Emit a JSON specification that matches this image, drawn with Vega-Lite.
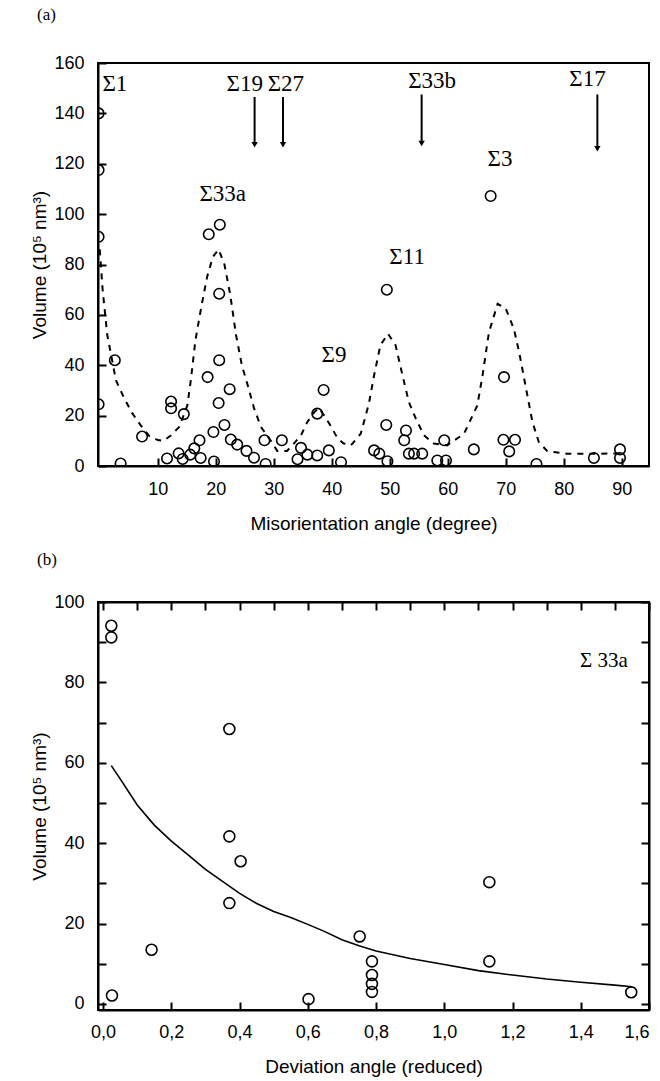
{
  "$schema": "https://vega.github.io/schema/vega-lite/v6.json",
  "padding": {"left": 29, "top": 5, "right": 5, "bottom": 5},
  "background": "white",
  "bounds": "flush",
  "spacing": 136,
  "config": {
    "view": {"stroke": "black", "strokeWidth": 2},
    "axis": {
      "grid": false,
      "domainColor": "black",
      "domainWidth": 2,
      "ticks": true,
      "tickColor": "black",
      "tickWidth": 2,
      "labelFont": "Liberation Sans",
      "labelFontSize": 18,
      "labelColor": "black",
      "titleFont": "Liberation Sans",
      "titleFontSize": 19,
      "titleFontWeight": "normal",
      "titleColor": "black"
    }
  },
  "datasets": {
    "pts_a": [
      {"angle": -0.2, "vol": 140}, {"angle": -0.2, "vol": 117.5}, {"angle": -0.2, "vol": 91}, {"angle": -0.2, "vol": 24.5},
      {"angle": 2.6, "vol": 42}, {"angle": 3.6, "vol": 1}, {"angle": 7.3, "vol": 11.7}, {"angle": 11.6, "vol": 3},
      {"angle": 12.3, "vol": 25.6}, {"angle": 12.3, "vol": 22.9}, {"angle": 13.6, "vol": 5}, {"angle": 14.5, "vol": 20.6},
      {"angle": 14.3, "vol": 2.8}, {"angle": 15.6, "vol": 4.5}, {"angle": 16.3, "vol": 7}, {"angle": 17.2, "vol": 10.2},
      {"angle": 17.4, "vol": 3.2}, {"angle": 18.6, "vol": 35.3}, {"angle": 18.8, "vol": 92}, {"angle": 20.7, "vol": 95.8},
      {"angle": 19.6, "vol": 13.5}, {"angle": 19.7, "vol": 1.8}, {"angle": 20.6, "vol": 42}, {"angle": 20.6, "vol": 68.4},
      {"angle": 20.5, "vol": 25}, {"angle": 21.5, "vol": 16.3}, {"angle": 22.4, "vol": 30.5}, {"angle": 22.6, "vol": 10.5},
      {"angle": 23.7, "vol": 8.5}, {"angle": 25.3, "vol": 6}, {"angle": 26.6, "vol": 3.3}, {"angle": 28.4, "vol": 10.2},
      {"angle": 28.6, "vol": 0.8}, {"angle": 31.4, "vol": 10.2}, {"angle": 34.7, "vol": 7.2}, {"angle": 35.8, "vol": 4.5},
      {"angle": 34.1, "vol": 2.7}, {"angle": 37.5, "vol": 20.8}, {"angle": 38.6, "vol": 30.2}, {"angle": 37.5, "vol": 4.2},
      {"angle": 39.5, "vol": 6.2}, {"angle": 41.6, "vol": 1.5}, {"angle": 49.5, "vol": 70}, {"angle": 49.4, "vol": 16.3},
      {"angle": 47.3, "vol": 6.2}, {"angle": 48.2, "vol": 4.9}, {"angle": 49.6, "vol": 1.9}, {"angle": 52.8, "vol": 14.1},
      {"angle": 52.5, "vol": 10.2}, {"angle": 53.3, "vol": 4.9}, {"angle": 54.2, "vol": 4.9}, {"angle": 55.6, "vol": 4.9},
      {"angle": 59.4, "vol": 10.2}, {"angle": 58.2, "vol": 2.2}, {"angle": 59.7, "vol": 2.2}, {"angle": 64.5, "vol": 6.6},
      {"angle": 67.4, "vol": 107.2}, {"angle": 69.7, "vol": 35.3}, {"angle": 69.6, "vol": 10.4}, {"angle": 71.6, "vol": 10.4},
      {"angle": 70.6, "vol": 5.8}, {"angle": 75.3, "vol": 0.8}, {"angle": 85.2, "vol": 3.2}, {"angle": 89.7, "vol": 6.6},
      {"angle": 89.7, "vol": 3.2}
    ],
    "fit_a": [
      {"angle": 0, "vol": 86}, {"angle": 0.5, "vol": 70}, {"angle": 1.3, "vol": 52}, {"angle": 2.8, "vol": 34},
      {"angle": 4.2, "vol": 27}, {"angle": 5.6, "vol": 21}, {"angle": 7.1, "vol": 16}, {"angle": 8.5, "vol": 12},
      {"angle": 10, "vol": 10.3}, {"angle": 11, "vol": 10}, {"angle": 12.2, "vol": 12}, {"angle": 13.7, "vol": 15.5},
      {"angle": 15.1, "vol": 24}, {"angle": 15.7, "vol": 34}, {"angle": 16.5, "vol": 50}, {"angle": 17.5, "vol": 63},
      {"angle": 18.5, "vol": 75}, {"angle": 19.5, "vol": 83}, {"angle": 20.5, "vol": 86}, {"angle": 21.5, "vol": 80},
      {"angle": 22.5, "vol": 68}, {"angle": 23.5, "vol": 52}, {"angle": 24.5, "vol": 40}, {"angle": 25.4, "vol": 33},
      {"angle": 26.6, "vol": 23}, {"angle": 27.8, "vol": 15.5}, {"angle": 29.5, "vol": 10}, {"angle": 30.6, "vol": 6},
      {"angle": 32.3, "vol": 6}, {"angle": 33.5, "vol": 9}, {"angle": 34.7, "vol": 12.2}, {"angle": 35.8, "vol": 17.5},
      {"angle": 37, "vol": 21.4}, {"angle": 37.8, "vol": 23}, {"angle": 38.7, "vol": 20}, {"angle": 39.8, "vol": 16},
      {"angle": 41, "vol": 11}, {"angle": 42, "vol": 9}, {"angle": 43.3, "vol": 8.2}, {"angle": 45, "vol": 12.8},
      {"angle": 46.4, "vol": 24.7}, {"angle": 47.3, "vol": 36}, {"angle": 48.4, "vol": 48}, {"angle": 49.7, "vol": 52.5},
      {"angle": 51, "vol": 48}, {"angle": 52.2, "vol": 36}, {"angle": 53.3, "vol": 25.4}, {"angle": 54.5, "vol": 18.8},
      {"angle": 55.9, "vol": 12.2}, {"angle": 57.6, "vol": 8.9}, {"angle": 59.9, "vol": 8.2}, {"angle": 62.8, "vol": 12.8},
      {"angle": 65.1, "vol": 24}, {"angle": 66, "vol": 36}, {"angle": 67.1, "vol": 53}, {"angle": 68.6, "vol": 64.4},
      {"angle": 70, "vol": 62.5}, {"angle": 71.4, "vol": 54.5}, {"angle": 72.3, "vol": 45.3}, {"angle": 73.4, "vol": 32},
      {"angle": 74.6, "vol": 17.5}, {"angle": 75.7, "vol": 9.5}, {"angle": 77.2, "vol": 5.8}, {"angle": 80.6, "vol": 4.9},
      {"angle": 86.4, "vol": 4.9}, {"angle": 90, "vol": 5}
    ],
    "arrows_a": [
      {"angle": 26.7, "top": 146.5, "tip": 127.5},
      {"angle": 31.6, "top": 146.5, "tip": 127.5},
      {"angle": 55.5, "top": 147.5, "tip": 128},
      {"angle": 85.8, "top": 147.5, "tip": 126}
    ],
    "labels_a": [
      {"angle": 2.6, "vol": 151.6, "label": "Σ1"},
      {"angle": 25.0, "vol": 151.6, "label": "Σ19"},
      {"angle": 32.1, "vol": 151.6, "label": "Σ27"},
      {"angle": 57.3, "vol": 153, "label": "Σ33b"},
      {"angle": 84.1, "vol": 153.5, "label": "Σ17"},
      {"angle": 21.2, "vol": 108, "label": "Σ33a"},
      {"angle": 69, "vol": 122, "label": "Σ3"},
      {"angle": 53, "vol": 83, "label": "Σ11"},
      {"angle": 40.4, "vol": 44, "label": "Σ9"}
    ],
    "pts_b": [
      {"dev": 0.024, "vol": 94.1}, {"dev": 0.024, "vol": 91.2}, {"dev": 0.026, "vol": 2.1}, {"dev": 0.142, "vol": 13.5},
      {"dev": 0.37, "vol": 68.4}, {"dev": 0.37, "vol": 41.7}, {"dev": 0.403, "vol": 35.5}, {"dev": 0.37, "vol": 25.1},
      {"dev": 0.602, "vol": 1.2}, {"dev": 0.752, "vol": 16.8}, {"dev": 0.788, "vol": 10.6}, {"dev": 0.788, "vol": 7.2},
      {"dev": 0.788, "vol": 5.0}, {"dev": 0.788, "vol": 3.0}, {"dev": 1.132, "vol": 30.3}, {"dev": 1.132, "vol": 10.6},
      {"dev": 1.548, "vol": 2.9}
    ],
    "fit_b": [
      {"dev": 0.024, "vol": 59.3}, {"dev": 0.05, "vol": 56}, {"dev": 0.1, "vol": 49.5}, {"dev": 0.15, "vol": 44.5},
      {"dev": 0.2, "vol": 40.5}, {"dev": 0.25, "vol": 37}, {"dev": 0.3, "vol": 33.5}, {"dev": 0.35, "vol": 30.5},
      {"dev": 0.4, "vol": 27.5}, {"dev": 0.45, "vol": 25}, {"dev": 0.5, "vol": 23}, {"dev": 0.55, "vol": 21.5},
      {"dev": 0.6, "vol": 19.8}, {"dev": 0.65, "vol": 18}, {"dev": 0.7, "vol": 16}, {"dev": 0.75, "vol": 14.5},
      {"dev": 0.8, "vol": 13.2}, {"dev": 0.9, "vol": 11.3}, {"dev": 1.0, "vol": 9.8}, {"dev": 1.1, "vol": 8.3},
      {"dev": 1.2, "vol": 7.2}, {"dev": 1.3, "vol": 6.2}, {"dev": 1.4, "vol": 5.4}, {"dev": 1.5, "vol": 4.7},
      {"dev": 1.55, "vol": 4.3}
    ],
    "labels_b": [
      {"dev": 1.468, "vol": 85.4, "label": "Σ 33a"}
    ]
  },
  "vconcat": [
    {
      "width": 551,
      "height": 403,
      "title": {"text": "(a)", "anchor": "start", "frame": "group", "font": "Liberation Serif", "fontSize": 17, "fontWeight": "normal", "color": "black", "offset": 30, "dx": -61},
      "layer": [
        {
          "data": {"name": "fit_a"},
          "mark": {"type": "line", "color": "black", "strokeWidth": 2, "strokeDash": [6, 6], "clip": true},
          "encoding": {
            "x": {"field": "angle", "type": "quantitative", "scale": {"domain": [-0.3, 94.7], "nice": false, "zero": false},
              "axis": {"title": "Misorientation angle (degree)", "values": [10, 20, 30, 40, 50, 60, 70, 80, 90], "tickSize": -8, "labelPadding": 22, "titlePadding": 16}},
            "y": {"field": "vol", "type": "quantitative", "scale": {"domain": [0, 160], "nice": false},
              "axis": {"title": "Volume (10⁵ nm³)", "values": [0, 10, 20, 30, 40, 50, 60, 70, 80, 90, 100, 110, 120, 130, 140, 150, 160], "labelExpr": "datum.value % 20 === 0 ? datum.label : ''", "tickSize": -8, "labelPadding": 22, "titlePadding": 4}}
          }
        },
        {
          "data": {"name": "pts_a"},
          "mark": {"type": "point", "shape": "circle", "filled": false, "color": "black", "strokeWidth": 1.6, "size": 110, "opacity": 1, "clip": true},
          "encoding": {
            "x": {"field": "angle", "type": "quantitative"},
            "y": {"field": "vol", "type": "quantitative"}
          }
        },
        {
          "data": {"name": "arrows_a"},
          "mark": {"type": "rule", "color": "black", "strokeWidth": 2},
          "encoding": {
            "x": {"field": "angle", "type": "quantitative"},
            "y": {"field": "top", "type": "quantitative"},
            "y2": {"field": "tip"}
          }
        },
        {
          "data": {"name": "arrows_a"},
          "mark": {"type": "point", "shape": "triangle-down", "filled": true, "color": "black", "size": 40, "opacity": 1},
          "encoding": {
            "x": {"field": "angle", "type": "quantitative"},
            "y": {"field": "tip", "type": "quantitative"}
          }
        },
        {
          "data": {"name": "labels_a"},
          "mark": {"type": "text", "font": "Liberation Serif", "fontSize": 23, "color": "black", "align": "center", "baseline": "middle"},
          "encoding": {
            "x": {"field": "angle", "type": "quantitative"},
            "y": {"field": "vol", "type": "quantitative"},
            "text": {"field": "label"}
          }
        }
      ]
    },
    {
      "width": 551,
      "height": 408,
      "title": {"text": "(b)", "anchor": "start", "frame": "group", "font": "Liberation Serif", "fontSize": 17, "fontWeight": "normal", "color": "black", "offset": 24, "dx": -61},
      "resolve": {"scale": {"x": "independent", "y": "independent"}},
      "layer": [
        {
          "data": {"name": "pts_b"},
          "layer": [
            {
              "mark": {"type": "point", "shape": "circle", "filled": false, "color": "black", "strokeWidth": 1.6, "size": 120, "opacity": 1},
              "encoding": {
                "x": {"field": "dev", "type": "quantitative", "scale": {"domain": [-0.015, 1.6], "nice": false, "zero": false},
                  "axis": {"title": "Deviation angle (reduced)", "orient": "bottom", "values": [0, 0.1, 0.2, 0.3, 0.4, 0.5, 0.6, 0.7, 0.8, 0.9, 1.0, 1.1, 1.2, 1.3, 1.4, 1.5, 1.6], "labelExpr": "round(datum.value*10) % 2 === 0 ? replace(format(datum.value, '.1f'), '.', ',') : ''", "tickSize": -8, "labelPadding": 21, "titlePadding": 16}},
                "y": {"field": "vol", "type": "quantitative", "scale": {"domain": [-1.5, 100], "nice": false, "zero": false},
                  "axis": {"title": "Volume (10⁵ nm³)", "orient": "left", "values": [0, 10, 20, 30, 40, 50, 60, 70, 80, 90, 100], "labelExpr": "datum.value % 20 === 0 ? datum.label : ''", "tickSize": -8, "labelPadding": 22, "titlePadding": 4}}
              }
            },
            {
              "data": {"name": "labels_b"},
              "mark": {"type": "text", "font": "Liberation Serif", "fontSize": 21, "color": "black", "align": "center", "baseline": "middle"},
              "encoding": {
                "x": {"field": "dev", "type": "quantitative"},
                "y": {"field": "vol", "type": "quantitative"},
                "text": {"field": "label"}
              }
            }
          ]
        },
        {
          "data": {"name": "fit_b"},
          "mark": {"type": "line", "color": "black", "strokeWidth": 1.6},
          "encoding": {
            "x": {"field": "dev", "type": "quantitative", "scale": {"domain": [-0.015, 1.6], "nice": false, "zero": false},
              "axis": {"title": null, "orient": "top", "values": [0, 0.1, 0.2, 0.3, 0.4, 0.5, 0.6, 0.7, 0.8, 0.9, 1.0, 1.1, 1.2, 1.3, 1.4, 1.5, 1.6], "labels": false, "tickSize": -8}},
            "y": {"field": "vol", "type": "quantitative", "scale": {"domain": [-1.5, 100], "nice": false, "zero": false},
              "axis": {"title": null, "orient": "right", "values": [0, 10, 20, 30, 40, 50, 60, 70, 80, 90, 100], "labels": false, "tickSize": -8}}
          }
        }
      ]
    }
  ]
}
